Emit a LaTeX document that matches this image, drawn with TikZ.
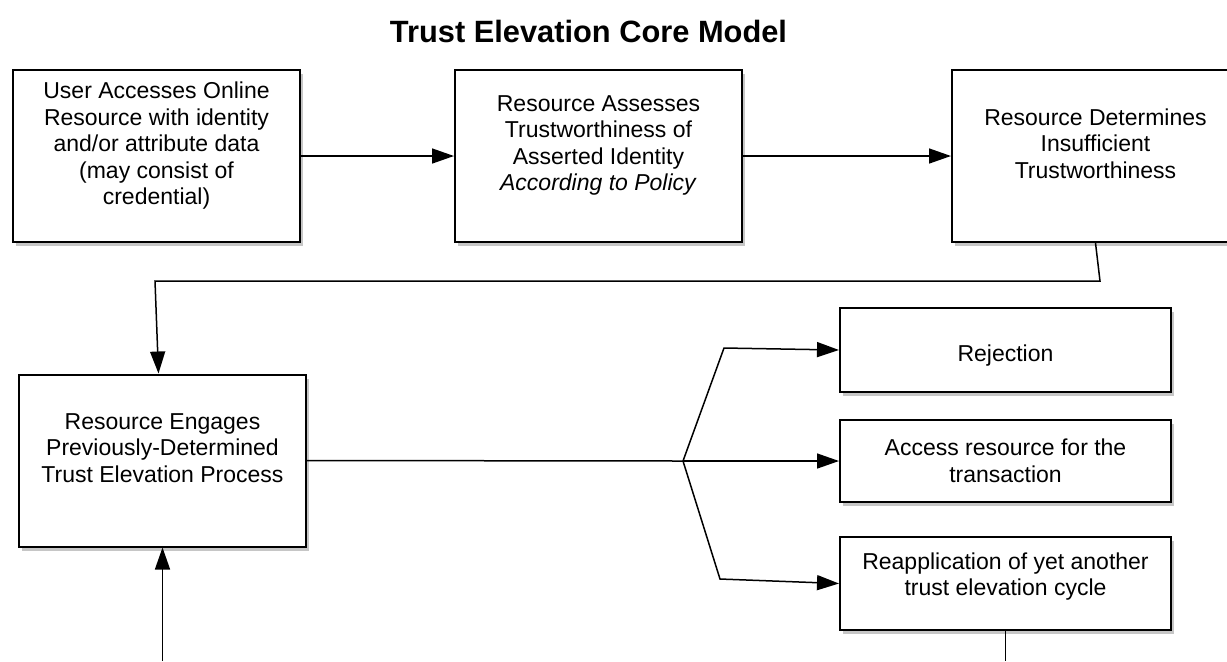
\documentclass[tikz,border=0pt]{standalone}
\usepackage{fontspec}
\setmainfont{Liberation Sans}
\usepackage{tikz}
\usetikzlibrary{arrows.meta,shadows}

\begin{document}
\begin{tikzpicture}[x=0.5pt,y=-0.5pt]
            \tikzstyle{box}=[draw,line width=1pt,fill=white,align=center,inner sep=2pt,minimum width=143.5pt,minimum height=86pt,font=\fontsize{11.5}{13.25}\selectfont,drop shadow={shadow xshift=1.5pt,shadow yshift=-2pt,opacity=0.45}]
            \tikzstyle{outcome}=[box,minimum width=165.5pt]
            \tikzstyle{link}=[line width=0.75pt]
            \tikzstyle{flow}=[link,-{Triangle[length=11pt,width=7.5pt]}]
            \clip (0,0) rectangle (1227,661);
            \node[anchor=base,font=\fontsize{15.4}{18}\selectfont\bfseries] (title) at (588.5,42) {Trust Elevation Core Model};
            \node[box] (user) at (156.5,156) {User Accesses Online\\Resource with identity\\and/or attribute data\\(may consist of\\credential)\\[-4.5pt]\strut};
            \node[box] (assess) at (598.5,156) {Resource Assesses\\Trustworthiness of\\Asserted Identity\\\textit{According to Policy}\\[-4.5pt]\strut};
            \node[box] (determine) at (1095.5,156) {Resource Determines\\Insufficient\\Trustworthiness\\[-4.5pt]\strut};
            \node[box] (engage) at (162.5,460.5) {Resource Engages\\Previously-Determined\\Trust Elevation Process\\[-4.5pt]\strut};
            \node[outcome,minimum height=42pt] (reject) at (1005.5,350) {\rule{0pt}{13.4pt}Rejection};
            \node[outcome,minimum height=41pt] (access) at (1005.5,461) {Access resource for the\\transaction};
            \node[outcome,minimum height=46.5pt] (reapp) at (1005.5,583.5) {Reapplication of yet another\\trust elevation cycle\\[-8pt]\strut};
            \coordinate (bendright) at (1100,281);
            \coordinate (bendleft) at (155,281);
            \coordinate (fork) at (683,461);
            \coordinate (forkup) at (724,348);
            \coordinate (forkdown) at (720,579);
            \coordinate (loopin) at (162.5,661);
            \coordinate (loopout) at (1005.5,661);
            \draw[flow] (user.east) -- (assess.west);
            \draw[flow] (assess.east) -- (determine.west);
            \draw[flow] (determine.south) -- (bendright) -- (bendleft) -- ([xshift=-2pt]engage.north);
            \draw[link] (engage.east) -- (fork);
            \draw[flow] (fork) -- (forkup) -- (reject.west);
            \draw[flow] (fork) -- (access.west);
            \draw[flow] (fork) -- (forkdown) -- (reapp.west);
            \draw[link] (reapp.south) -- (loopout);
            \draw[flow] (loopin) -- (engage.south);
        \end{tikzpicture}
\end{document}
